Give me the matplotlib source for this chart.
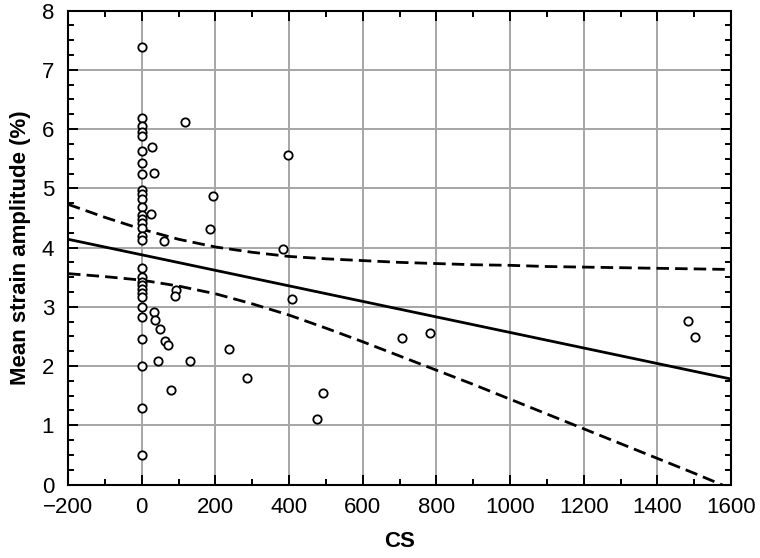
import matplotlib
matplotlib.use("Agg")
import matplotlib.pyplot as plt
from matplotlib.ticker import MultipleLocator

plt.rcParams['font.family'] = ['Liberation Sans', 'DejaVu Sans']
plt.rcParams['axes.unicode_minus'] = True

# points
cs_zero = [0] * 31
amp_zero = [7.39, 6.18, 6.06, 5.95, 5.88, 5.63, 5.42, 5.24, 4.97, 4.90, 4.82,
            4.69, 4.55, 4.48, 4.41, 4.33, 4.20, 4.12, 3.66, 3.50, 3.42, 3.36,
            3.30, 3.23, 3.17, 3.00, 2.83, 2.46, 2.00, 1.30, 0.49]
cs_other = [118, 27, 34, 398, 194, 24, 185, 60, 384, 93, 91, 409, 34, 35, 49,
            62, 71, 43, 130, 238, 80, 287, 491, 475, 706, 782, 1482, 1502]
amp_other = [6.12, 5.70, 5.26, 5.57, 4.87, 4.57, 4.31, 4.11, 3.98, 3.29, 3.19,
             3.14, 2.92, 2.77, 2.63, 2.42, 2.35, 2.09, 2.08, 2.28, 1.60, 1.80,
             1.55, 1.10, 2.48, 2.55, 2.76, 2.49]

# fitted line and confidence band
fit_x = [-200, 1600]
fit_y = [4.14, 1.78]
band_x = [-200, -100, 0, 100, 200, 300, 400, 500, 600, 700, 800, 900, 1000,
          1100, 1200, 1300, 1400, 1500, 1600]
band_up = [4.73, 4.51, 4.31, 4.14, 4.01, 3.92, 3.85, 3.81, 3.78, 3.75, 3.73,
           3.71, 3.70, 3.68, 3.67, 3.66, 3.65, 3.64, 3.63]
band_lo = [3.56, 3.51, 3.45, 3.35, 3.22, 3.05, 2.86, 2.64, 2.41, 2.17, 1.93,
           1.69, 1.44, 1.19, 0.94, 0.69, 0.44, 0.19, -0.07]

fig = plt.figure(figsize=(7.6, 5.58), dpi=100)
ax = fig.add_axes([0.0895, 0.1317, 0.8725, 0.8493])

ax.grid(True, color='#a6a6a6', linewidth=1.4, zorder=0)
ax.plot(fit_x, fit_y, color='black', linewidth=2, zorder=3)
ax.plot(band_x, band_up, color='black', linewidth=2, dashes=(4.5, 2.2), zorder=3)
ax.plot(band_x, band_lo, color='black', linewidth=2, dashes=(4.5, 2.2), zorder=3)
ax.plot(cs_zero + cs_other, amp_zero + amp_other, 'o', markersize=6,
        markerfacecolor='white', markeredgecolor='black', markeredgewidth=1.3,
        linestyle='none', zorder=4)

ax.set_xlim(-200, 1600)
ax.set_ylim(0, 8)
ax.xaxis.set_major_locator(MultipleLocator(200))
ax.xaxis.set_minor_locator(MultipleLocator(100))
ax.yaxis.set_major_locator(MultipleLocator(1))
ax.yaxis.set_minor_locator(MultipleLocator(0.25))
ax.tick_params(which='both', direction='in', top=True, right=True,
               labelsize=16, width=1.4)
ax.tick_params(axis='x', pad=9)
ax.tick_params(axis='y', pad=10)
ax.tick_params(which='major', length=7)
ax.tick_params(which='minor', length=4)
for s in ax.spines.values():
    s.set_linewidth(1.5)

ax.set_xlabel('CS', fontsize=16, fontweight='bold', labelpad=9)
ax.set_ylabel('Mean strain amplitude (%)', fontsize=16, fontweight='bold', labelpad=8)

fig.savefig('out.png', dpi=100)
